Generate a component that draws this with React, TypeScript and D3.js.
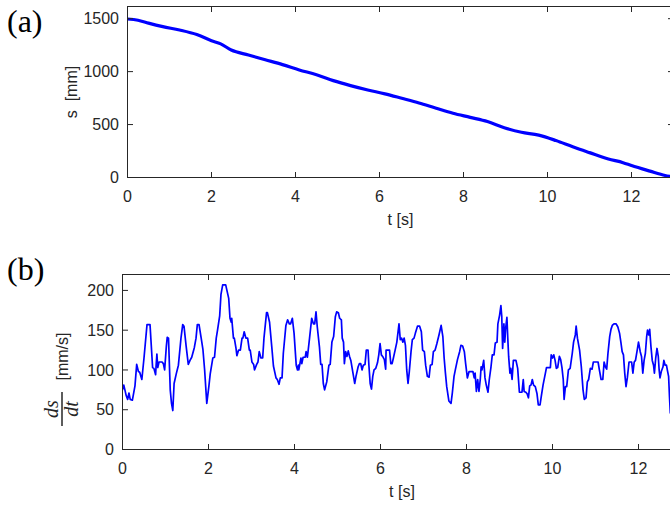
import React from "react";
import * as d3 from "d3";

// Panel (a): remaining distance s [mm] over time t [s]
const distanceTime: number[] = [0, 0.25, 0.5, 0.84, 1.24, 1.65, 2.0, 2.22, 2.47, 2.88, 3.28, 3.69, 4.09, 4.5, 4.9, 5.31, 5.72, 6.13, 6.53, 6.94, 7.35, 7.75, 8.16, 8.57, 8.97, 9.38, 9.79, 10.2, 10.6, 11.0, 11.45, 11.8, 12.0, 12.44, 12.8, 12.92];
const distanceValue: number[] = [1497, 1485, 1458, 1425, 1393, 1350, 1292, 1262, 1204, 1157, 1112, 1066, 1016, 970, 915, 868, 827, 790, 748, 704, 654, 607, 568, 528, 470, 427, 400, 349, 290, 235, 175, 140, 113, 60, 19, 10];

// Panel (b): speed ds/dt [mm/s] over time t [s]
const speedTime: number[] = [
  0.0, 0.03, 0.085, 0.12, 0.15, 0.18, 0.23, 0.29, 0.33, 0.37, 0.4, 0.45, 0.5, 0.57, 0.64, 0.7, 0.73, 0.77, 0.78, 0.8,
  0.82, 0.85, 0.92, 0.95, 0.98, 1.02, 1.04, 1.07, 1.11, 1.14, 1.17, 1.2, 1.25, 1.3, 1.36, 1.4, 1.43, 1.48, 1.53, 1.57,
  1.61, 1.67, 1.71, 1.74, 1.78, 1.83, 1.87, 1.91, 1.96, 2.01, 2.04, 2.1, 2.14, 2.18, 2.21, 2.26, 2.29, 2.33, 2.4, 2.47,
  2.5, 2.53, 2.54, 2.58, 2.6, 2.64, 2.66, 2.7, 2.74, 2.78, 2.8, 2.83, 2.87, 2.91, 2.95, 2.97, 3.01, 3.05, 3.07, 3.12,
  3.15, 3.18, 3.22, 3.26, 3.29, 3.35, 3.37, 3.42, 3.47, 3.51, 3.57, 3.6, 3.64, 3.67, 3.71, 3.74, 3.8, 3.84, 3.88, 3.91,
  3.95, 3.99, 4.04, 4.07, 4.09, 4.1, 4.15, 4.17, 4.2, 4.25, 4.27, 4.3, 4.35, 4.4, 4.44, 4.47, 4.5, 4.53, 4.58, 4.61,
  4.64, 4.67, 4.7, 4.75, 4.8, 4.83, 4.87, 4.91, 4.95, 4.98, 5.02, 5.05, 5.09, 5.11, 5.14, 5.16, 5.19, 5.22, 5.25, 5.28,
  5.31, 5.36, 5.4, 5.43, 5.48, 5.51, 5.54, 5.57, 5.6, 5.64, 5.67, 5.71, 5.73, 5.76, 5.79, 5.82, 5.85, 5.89, 5.93, 5.96,
  5.99, 6.02, 6.05, 6.09, 6.12, 6.13, 6.16, 6.21, 6.24, 6.27, 6.3, 6.34, 6.38, 6.43, 6.46, 6.49, 6.52, 6.55, 6.58, 6.61,
  6.64, 6.67, 6.71, 6.74, 6.78, 6.81, 6.86, 6.91, 6.95, 6.98, 7.02, 7.05, 7.09, 7.13, 7.16, 7.2, 7.23, 7.27, 7.31, 7.36,
  7.41, 7.45, 7.48, 7.51, 7.54, 7.59, 7.64, 7.67, 7.71, 7.74, 7.79, 7.84, 7.87, 7.91, 7.95, 7.98, 8.02, 8.06, 8.11, 8.15,
  8.18, 8.2, 8.23, 8.26, 8.29, 8.32, 8.34, 8.36, 8.4, 8.43, 8.46, 8.5, 8.53, 8.57, 8.6, 8.64, 8.67, 8.71, 8.73, 8.77,
  8.8, 8.82, 8.84, 8.87, 8.89, 8.91, 8.94, 8.96, 8.98, 9.01, 9.03, 9.06, 9.09, 9.15, 9.19, 9.23, 9.29, 9.32, 9.34, 9.38,
  9.41, 9.44, 9.47, 9.5, 9.53, 9.56, 9.6, 9.64, 9.67, 9.71, 9.74, 9.78, 9.82, 9.86, 9.91, 9.95, 9.97, 10.0, 10.03, 10.06,
  10.09, 10.12, 10.16, 10.19, 10.22, 10.25, 10.27, 10.3, 10.33, 10.37, 10.41, 10.46, 10.49, 10.53, 10.55, 10.58, 10.63, 10.67, 10.71, 10.74,
  10.78, 10.81, 10.84, 10.88, 10.92, 10.95, 10.99, 11.03, 11.06, 11.09, 11.13, 11.17, 11.2, 11.23, 11.26, 11.29, 11.33, 11.36, 11.39, 11.43,
  11.48, 11.52, 11.56, 11.59, 11.62, 11.65, 11.68, 11.71, 11.74, 11.78, 11.81, 11.84, 11.87, 11.9, 11.93, 11.97, 12.0, 12.04, 12.07, 12.1,
  12.13, 12.16, 12.19, 12.21, 12.24, 12.26, 12.29, 12.32, 12.35, 12.37, 12.4, 12.43, 12.46, 12.48, 12.5, 12.53, 12.57, 12.59, 12.62, 12.65,
  12.67, 12.7, 12.72, 12.74,
];
const speedValue: number[] = [
  75, 81, 68, 63, 71, 63, 62, 80, 107, 98, 97, 88, 115, 157, 157, 103, 102, 94, 104, 120,
  103, 110, 110, 108, 100, 130, 141, 140, 75, 58, 49, 83, 95, 106, 140, 157, 155, 130, 107, 112,
  116, 128, 140, 157, 157, 140, 126, 100, 58, 80, 95, 115, 116, 140, 150, 168, 195, 207, 207, 190,
  165, 160, 165, 140, 140, 127, 118, 125, 125, 140, 140, 148, 140, 140, 125, 125, 110, 107, 100, 107,
  110, 123, 115, 115, 140, 172, 172, 160, 130, 105, 90, 88, 82, 90, 90, 121, 156, 163, 158, 158,
  165, 146, 106, 100, 106, 100, 115, 108, 116, 116, 123, 116, 140, 165, 158, 158, 173, 154, 129, 107,
  107, 83, 75, 85, 106, 107, 135, 142, 167, 173, 172, 165, 163, 140, 135, 108, 123, 117, 124, 117,
  112, 96, 83, 92, 104, 108, 108, 100, 106, 107, 125, 125, 106, 83, 76, 92, 100, 102, 109, 119,
  133, 119, 117, 113, 101, 125, 125, 125, 108, 108, 115, 125, 135, 158, 138, 140, 135, 140, 131, 100,
  83, 98, 123, 138, 140, 146, 155, 155, 148, 125, 123, 106, 92, 91, 106, 107, 123, 125, 133, 144,
  156, 142, 115, 96, 79, 61, 58, 71, 92, 100, 113, 123, 131, 130, 123, 108, 90, 98, 98, 98,
  90, 96, 73, 88, 73, 88, 104, 100, 112, 90, 81, 72, 88, 104, 119, 119, 134, 135, 158, 169,
  181, 167, 127, 158, 135, 152, 166, 140, 117, 96, 102, 88, 112, 112, 102, 72, 72, 88, 73, 72,
  70, 65, 80, 81, 88, 81, 79, 70, 56, 56, 67, 81, 92, 103, 103, 103, 119, 115, 119, 112,
  102, 103, 117, 113, 103, 88, 63, 79, 79, 100, 102, 121, 135, 144, 155, 140, 125, 104, 75, 63,
  65, 85, 88, 102, 101, 110, 110, 110, 110, 100, 88, 88, 110, 104, 101, 121, 142, 151, 156, 158,
  158, 154, 146, 135, 123, 119, 96, 79, 90, 110, 110, 110, 96, 110, 112, 125, 135, 123, 117, 96,
  112, 121, 142, 150, 144, 151, 129, 112, 106, 96, 115, 127, 117, 100, 90, 98, 104, 112, 106, 106,
  100, 92, 67, 46,
];

const xTicks: number[] = [0, 2, 4, 6, 8, 10, 12];
const distanceTicks: number[] = [0, 500, 1000, 1500];
const speedTicks: number[] = [0, 50, 100, 150, 200];

const AXIS = "#262626";
const LINE = "#0000ff";
const SANS = "'Liberation Sans', Arial, Helvetica, sans-serif";
const SERIF = "'Liberation Serif', 'Times New Roman', serif";
const TICK_LEN = 5.5;
const FONT = 16;

type AxesProps = {
  left: number;
  right: number;
  top: number;
  bottom: number;
  yMax: number;
  yTicks: number[];
  xs: number[];
  ys: number[];
  strokeWidth: number;
  curve: d3.CurveFactory;
};

function Axes({ left, right, top, bottom, yMax, yTicks, xs, ys, strokeWidth, curve }: AxesProps) {
  const x = d3.scaleLinear().domain([0, 13]).range([left, right]);
  const y = d3.scaleLinear().domain([0, yMax]).range([bottom, top]);
  const pts: [number, number][] = xs.map((t, i) => [t, ys[i]]);
  const path = d3
    .line<[number, number]>()
    .x((d) => x(d[0]))
    .y((d) => y(d[1]))
    .curve(curve)(pts) as string;
  const clipId = `clip-${Math.round(top)}`;
  return (
    <g>
      <defs>
        <clipPath id={clipId}>
          <rect x={left} y={top} width={right - left} height={bottom - top} />
        </clipPath>
      </defs>
      <path
        d={path}
        fill="none"
        stroke={LINE}
        strokeWidth={strokeWidth}
        strokeLinejoin="round"
        strokeLinecap="round"
        clipPath={`url(#${clipId})`}
      />
      <rect x={left} y={top} width={right - left} height={bottom - top} fill="none" stroke={AXIS} strokeWidth={1} />
      {xTicks.map((t) => (
        <g key={`xt${t}`}>
          <line x1={x(t)} x2={x(t)} y1={bottom} y2={bottom - TICK_LEN} stroke={AXIS} strokeWidth={1} />
          <line x1={x(t)} x2={x(t)} y1={top} y2={top + TICK_LEN} stroke={AXIS} strokeWidth={1} />
          <text x={x(t)} y={bottom + 24} textAnchor="middle" fontFamily={SANS} fontSize={FONT} fill={AXIS}>
            {t}
          </text>
        </g>
      ))}
      {yTicks.map((v) => (
        <g key={`yt${v}`}>
          <line x1={left} x2={left + TICK_LEN} y1={y(v)} y2={y(v)} stroke={AXIS} strokeWidth={1} />
          <line x1={right} x2={right - TICK_LEN} y1={y(v)} y2={y(v)} stroke={AXIS} strokeWidth={1} />
          <text x={left - 8.5} y={y(v) + 5.7} textAnchor="end" fontFamily={SANS} fontSize={FONT} fill={AXIS}>
            {v}
          </text>
        </g>
      ))}
      <text x={(left + right) / 2} y={bottom + 47} textAnchor="middle" fontFamily={SANS} fontSize={FONT} fill={AXIS}>
        t [s]
      </text>
    </g>
  );
}

export default function App() {
  return (
    <svg width={670} height={508} style={{ position: "absolute", left: 0, top: 0, background: "#ffffff" }}>
      <rect x={0} y={0} width={670} height={508} fill="#ffffff" />

      {/* (a) distance */}
      <text x={7} y={32} fontFamily={SERIF} fontSize={32} fill="#000">
        (a)
      </text>
      <Axes
        left={127.5}
        right={673.5}
        top={6.5}
        bottom={177.5}
        yMax={1615}
        yTicks={distanceTicks}
        xs={distanceTime}
        ys={distanceValue}
        strokeWidth={3.2}
        curve={d3.curveMonotoneX}
      />
      <text
        transform="translate(71,92) rotate(-90)"
        textAnchor="middle"
        dominantBaseline="central"
        fontFamily={SANS}
        fontSize={FONT}
        fill={AXIS}
        xmlSpace="preserve"
      >
        {"s  [mm]"}
      </text>

      {/* (b) speed */}
      <text x={7} y={280} fontFamily={SERIF} fontSize={32} fill="#000">
        (b)
      </text>
      <Axes
        left={122.5}
        right={681.5}
        top={274.5}
        bottom={449.5}
        yMax={220}
        yTicks={speedTicks}
        xs={speedTime}
        ys={speedValue}
        strokeWidth={1.7}
        curve={d3.curveLinear}
      />
      <g transform="translate(62,380) rotate(-90)" fill={AXIS}>
        <text x={23.5} y={0} textAnchor="middle" dominantBaseline="central" fontFamily={SANS} fontSize={FONT}>
          [mm/s]
        </text>
        <text x={-29} y={-4} textAnchor="middle" fontFamily={SERIF} fontStyle="italic" fontSize={20}>
          ds
        </text>
        <line x1={-12} x2={-46} y1={0} y2={0} stroke={AXIS} strokeWidth={1.5} />
        <text x={-29} y={15.5} textAnchor="middle" fontFamily={SERIF} fontStyle="italic" fontSize={20}>
          dt
        </text>
      </g>
    </svg>
  );
}
